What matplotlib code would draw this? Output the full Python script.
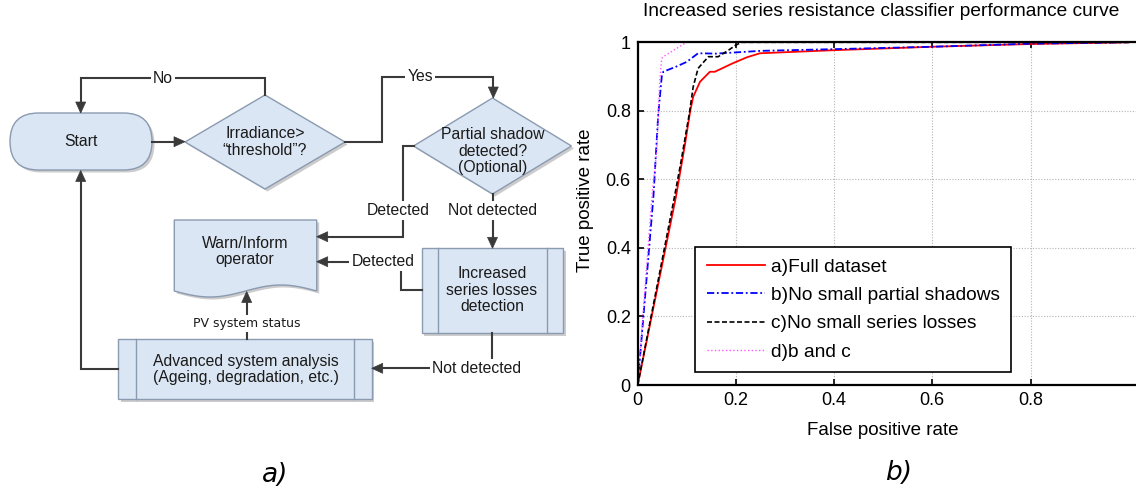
import matplotlib
matplotlib.use("Agg")
import matplotlib.pyplot as plt
from matplotlib.patches import FancyBboxPatch, Polygon
import numpy as np

# ---------------- ROC data (false positive rate, true positive rate) ----------------
fpr_full = [0, 0.078, 0.084, 0.096, 0.107, 0.113, 0.127, 0.147, 0.157, 0.194, 0.222, 0.249, 0.40, 0.60, 0.80, 1.0]
tpr_full = [0, 0.550, 0.600, 0.700, 0.800, 0.841, 0.885, 0.914, 0.914, 0.939, 0.956, 0.968, 0.977, 0.987, 0.995, 1.0]

fpr_no_shadow = [0, 0.032, 0.042, 0.049, 0.052, 0.080, 0.100, 0.123, 0.160, 0.250, 0.40, 0.60, 0.80, 1.0]
tpr_no_shadow = [0, 0.550, 0.793, 0.900, 0.914, 0.930, 0.943, 0.968, 0.967, 0.975, 0.980, 0.987, 0.996, 1.0]

fpr_no_series = [0, 0.075, 0.088, 0.100, 0.105, 0.113, 0.123, 0.144, 0.164, 0.185, 0.200, 0.212, 1.0]
tpr_no_series = [0, 0.550, 0.650, 0.750, 0.790, 0.870, 0.924, 0.958, 0.958, 0.977, 0.992, 1.000, 1.0]

fpr_both = [0, 0.029, 0.039, 0.045, 0.049, 0.052, 0.096, 0.100, 1.0]
tpr_both = [0, 0.550, 0.686, 0.890, 0.953, 0.958, 0.997, 1.000, 1.0]

series_labels = ["a)Full dataset", "b)No small partial shadows",
                 "c)No small series losses", "d)b and c"]
x_ticks = [0, 0.2, 0.4, 0.6, 0.8]
y_ticks = [0, 0.2, 0.4, 0.6, 0.8, 1.0]

W, H = 1136, 490
fig = plt.figure(figsize=(W / 100, H / 100), dpi=100)

# ---------------- flowchart (pixel coordinates, y downwards) ----------------
flow = fig.add_axes([0, 0, 1, 1])
flow.set_xlim(0, W)
flow.set_ylim(H, 0)
flow.set_aspect("equal")
flow.axis("off")

FILL = "#dbe6f4"
EDGE = "#8a9ab0"
SHADOW = "#cccccc"
LINE = "#3a3a3a"
TXT = "#1a1a1a"
FONT = "Liberation Sans"
FS = 11.3


def add_path(verts, closed=True, shadow=True):
    verts = np.asarray(verts, dtype=float)
    if shadow:
        flow.add_patch(Polygon(verts + [2.5, 2.5], closed=closed, facecolor=SHADOW,
                               edgecolor="none", zorder=1))
    flow.add_patch(Polygon(verts, closed=closed, facecolor=FILL, edgecolor=EDGE,
                           lw=1.0, zorder=2))


def diamond(cx, cy, hw, hh):
    add_path([(cx - hw, cy), (cx, cy - hh), (cx + hw, cy), (cx, cy + hh)])


def process(x0, y0, x1, y1, inner):
    add_path([(x0, y0), (x1, y0), (x1, y1), (x0, y1)])
    for xi in inner:
        flow.plot([xi, xi], [y0, y1], color=EDGE, lw=1.0, zorder=3)


def connector(points, head=True):
    pts = np.asarray(points, dtype=float)
    if head:
        tip = pts[-1]
        d = pts[-1] - pts[-2]
        d = d / np.hypot(*d)
        n = np.array([-d[1], d[0]])
        L, w = 11.0, 5.0
        base = tip - d * L
        line_pts = np.vstack([pts[:-1], base + d * 1.0])
        flow.plot(line_pts[:, 0], line_pts[:, 1], color=LINE, lw=1.5, zorder=4,
                  solid_joinstyle="miter")
        flow.add_patch(Polygon([tip, base + n * w, base - n * w], closed=True,
                               facecolor=LINE, edgecolor=LINE, lw=0.5, zorder=5))
    else:
        flow.plot(pts[:, 0], pts[:, 1], color=LINE, lw=1.5, zorder=4)


def box_text(x, y, s, **kw):
    flow.text(x, y, s, ha="center", va="center", fontsize=FS, family=FONT,
              color=TXT, linespacing=1.15, zorder=6, **kw)


def edge_label(x, y, s, size=FS, family=FONT):
    flow.text(x, y, s, ha="center", va="center", fontsize=size, family=family,
              color=TXT, zorder=6,
              bbox=dict(facecolor="white", edgecolor="none", pad=1.5))


# Start terminator
flow.add_patch(FancyBboxPatch((12.5, 115.5), 142, 57,
                              boxstyle="round,pad=0,rounding_size=28.5",
                              facecolor=SHADOW, edgecolor="none", zorder=1))
flow.add_patch(FancyBboxPatch((10, 113), 142, 57,
                              boxstyle="round,pad=0,rounding_size=28.5",
                              facecolor=FILL, edgecolor=EDGE, lw=1.0, zorder=2))
box_text(81, 141.5, "Start")

# Decisions
diamond(265, 142, 80, 47)
box_text(265, 142, "Irradiance>\n\u201cthreshold\u201d?")
diamond(492.5, 146, 79, 48)
box_text(492.5, 151, "Partial shadow\ndetected?\n(Optional)")

# Warn / inform document
xs = np.linspace(316.7, 174.3, 60)
t = (xs - 174.3) / (316.7 - 174.3)
wave = 291 + 6 * np.sin(2 * np.pi * t)
doc = [(174.3, 220), (316.7, 220)] + list(zip(xs, wave))
add_path(doc)
box_text(245, 251.5, "Warn/Inform\noperator")

# Predefined processes
process(421.7, 248.3, 563.3, 333.3, [438.3, 546.7])
box_text(492, 290, "Increased\nseries losses\ndetection")
process(118.3, 339.3, 371.7, 399.3, [136, 354])
box_text(245.5, 369.5, "Advanced system analysis\n(Ageing, degradation, etc.)")

# Connectors
connector([(265, 95), (265, 78.3), (80.7, 78.3), (80.7, 113)])
edge_label(163, 78.3, "No")
connector([(152, 141.7), (185, 141.7)])
connector([(345, 142.5), (381.7, 142.5), (381.7, 76.7), (493.3, 76.7), (493.3, 98)])
edge_label(420, 76.7, "Yes")
connector([(413.5, 146.5), (403.3, 146.5), (403.3, 236.7), (316.7, 236.7)])
edge_label(398, 210.5, "Detected")
connector([(492.5, 194), (492.5, 248.3)])
edge_label(493, 210.5, "Not detected")
connector([(421.7, 290), (400.7, 290), (400.7, 261.7), (316.7, 261.7)])
edge_label(383, 261.7, "Detected")
connector([(491.7, 333.3), (491.7, 368.3), (371.7, 368.3)])
edge_label(476.7, 368.3, "Not detected")
connector([(246.7, 339.3), (246.7, 291.5)])
edge_label(246.7, 323.3, "PV system status", size=9, family="DejaVu Sans")
connector([(118.3, 369.3), (80.7, 369.3), (80.7, 170.5)])

# Panel captions
fig.text(275 / W, 1 - 475 / H, "a)", fontsize=19, style="italic",
         family="DejaVu Sans", ha="center", va="center")
fig.text(899 / W, 1 - 473 / H, "b)", fontsize=19, style="italic",
         family="DejaVu Sans", ha="center", va="center")

# ---------------- ROC axes ----------------
x_right = 1.016
ax_w = 491.0 * x_right
ax = fig.add_axes([637.7 / W, (H - 385) / H, ax_w / W, 342.7 / H])
ax.set_zorder(2)

ax.plot(fpr_full, tpr_full, color="#ff0000", lw=1.3, ls="-", label=series_labels[0])
ax.plot(fpr_no_shadow, tpr_no_shadow, color="#0000ff", lw=1.3, ls=(0, (4, 1.5, 1, 1.5)),
        label=series_labels[1])
ax.plot(fpr_no_series, tpr_no_series, color="black", lw=1.2, ls=(0, (3, 1.5)),
        label=series_labels[2])
ax.plot(fpr_both, tpr_both, color="#ff55ff", lw=1.0, ls=":", label=series_labels[3])

ax.set_xlim(0, x_right)
ax.set_ylim(0, 1)
ax.set_xticks(x_ticks)
ax.set_yticks(y_ticks)
ax.set_xticklabels([f"{v:g}" for v in x_ticks])
ax.set_yticklabels([f"{v:g}" for v in y_ticks])
ax.tick_params(direction="in", length=4, width=1.2, labelsize=13, pad=5,
               top=True, right=False)
for lab in ax.get_xticklabels() + ax.get_yticklabels():
    lab.set_family(FONT)
ax.grid(True, ls=(0, (1, 1.5)), color="#b5b5b5", lw=0.8)
for side in ("left", "top", "bottom"):
    ax.spines[side].set_linewidth(1.6)
ax.spines["right"].set_visible(False)

ax.set_title("Increased series resistance classifier performance curve",
             fontsize=13.8, family=FONT, x=(881.5 - 637.7) / ax_w, y=1.065, va="center")
ax.set_xlabel("False positive rate", fontsize=13.5, family=FONT)
ax.xaxis.label.set_va("center")
ax.xaxis.set_label_coords((883 - 637.7) / ax_w, (385 - 430) / 342.7)
ax.set_ylabel("True positive rate", fontsize=13.5, family=FONT)
ax.yaxis.label.set_va("center")
ax.yaxis.set_label_coords((585 - 637.7) / ax_w, (385 - 200) / 342.7)

leg = ax.legend(loc="upper left", bbox_to_anchor=((695 - 637.7) / ax_w, (385 - 246.7) / 342.7),
                borderaxespad=0, fancybox=False, framealpha=1, edgecolor="black",
                prop={"family": FONT, "size": 13.8}, handlelength=3.05,
                handletextpad=0.3, borderpad=0.6, labelspacing=0.57)
leg.get_frame().set_linewidth(1.2)

fig.savefig("out.png", dpi=100)
